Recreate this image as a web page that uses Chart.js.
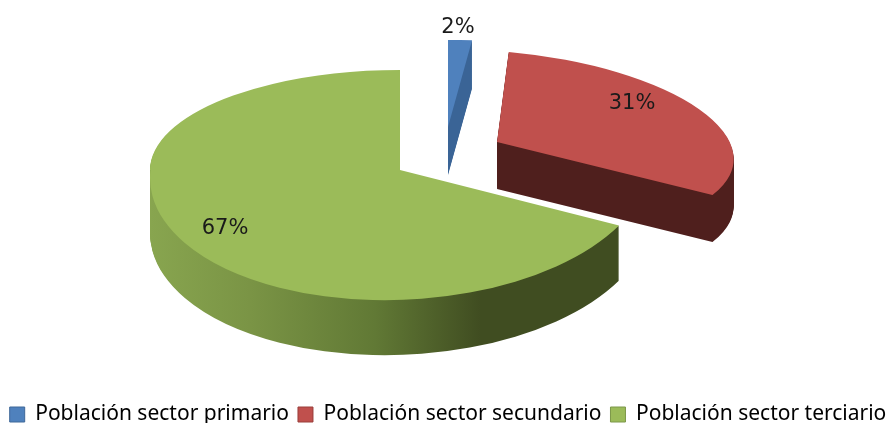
<!DOCTYPE html>
<html><head><meta charset="utf-8">
<style>html,body{margin:0;padding:0;background:#fff;overflow:hidden}#wrap{width:896px;height:423px}</style>
<script src="https://cdn.jsdelivr.net/npm/chart.js@4/dist/chart.umd.min.js"></script>
</head><body><div id="wrap"><canvas id="c" width="896" height="423"></canvas></div>
<script>
const categories = ['Población sector primario','Población sector secundario','Población sector terciario'];
const values = [2, 31, 67];
const topColors = ['#4F81BD','#C0504D','#9BBB59'];
const legendBorders = ['#3F6899','#9A3E3B','#7D984A'];
// style of the 3D look, per slice
const explodeX = [0, 49, -48];
const explodeY = [-71, -56, -28];
const depths = [48, 47, 55];
const scaleX = [1.92, 2.36, 2.50];
const shearY = [-0.03, 0.10, 0];
const shearYNear = [-0.03, 0.10, -0.08];
const shearX = [0, 0.18, 0];
const scaleFar = [0.87, 0.92, 1.00];
const scaleNear = [0.87, 0.92, 1.30];
const wallStops = [
  [[0,'#3A6496'],[1,'#3A6496']],
  [[0,'#4F1F1D'],[1,'#4F1F1D']],
  [[0,'#88A54F'],[0.2,'#7A9445'],[0.45,'#617935'],[0.66,'#404D21'],[1,'#404D21']]
];
const labelDX = [10, 135, -175];
const labelDY = [-99, -38, 59];

function paint(ctx, arc, i, drop, fill, W, H){
  const ax = arc.x + explodeX[i], ay = Math.round(arc.y + explodeY[i]) + drop, k = 100 / arc.outerRadius;
  const opts = Object.create(arc.options); opts.backgroundColor = fill; opts.borderWidth = 0;
  const saved = arc.options; arc.options = opts;
  [[0, ay, shearY[i], scaleFar[i]], [ay, H - ay, shearYNear[i], scaleNear[i]]].forEach(([cy, ch, b, sy]) => {
    ctx.save();
    ctx.beginPath(); ctx.rect(0, cy, W, ch); ctx.clip();
    ctx.transform(scaleX[i]*k, b*k, shearX[i]*k, sy*k, ax, ay);
    ctx.translate(-arc.x, -arc.y);
    arc.draw(ctx);
    ctx.restore();
  });
  arc.options = saved;
}
const pie3d = {
  id: 'pie3d',
  beforeDatasetsDraw(chart){
    const ctx = chart.ctx, arcs = chart.getDatasetMeta(0).data, W = chart.width, H = chart.height;
    [0,1,2].forEach(i => {
      const arc = arcs[i], R = arc.outerRadius;
      const g = ctx.createLinearGradient(arc.x - R, 0, arc.x + R, 0);
      wallStops[i].forEach(s => g.addColorStop(s[0], s[1]));
      for (let d = depths[i]; d >= 1; d--) paint(ctx, arc, i, d, g, W, H);
      paint(ctx, arc, i, 0, topColors[i], W, H);
    });
    return false;
  },
  afterDraw(chart){
    const ctx = chart.ctx, arcs = chart.getDatasetMeta(0).data;
    ctx.save();
    ctx.font = '21px "DejaVu Sans"'; ctx.fillStyle = '#1a1a1a';
    ctx.textAlign = 'center'; ctx.textBaseline = 'middle';
    const total = values.reduce((a,b)=>a+b,0);
    arcs.forEach((arc,i)=>{
      ctx.fillText(Math.round(values[i]/total*100)+'%', arc.x+explodeX[i]+labelDX[i], arc.y+explodeY[i]+labelDY[i]);
    });
    ctx.restore();
  }
};
new Chart(document.getElementById('c'), {
  type: 'pie',
  data: { labels: categories, datasets: [{ data: values, backgroundColor: topColors, borderColor: legendBorders, borderWidth: 0 }] },
  options: {
    responsive: false, animation: false, radius: 100,
    layout: { padding: { bottom: -12 } },
    plugins: {
      tooltip: { enabled: false },
      legend: { position: 'bottom',
        labels: { boxWidth: 15, boxHeight: 15, padding: 9, color: '#222', font: { family: '"Noto Sans"', size: 21 },
          generateLabels(chart){
            return categories.map((t,i)=>({ text:t, fillStyle: topColors[i], strokeStyle: legendBorders[i], lineWidth:1, index:i, hidden:false }));
          } } }
    }
  },
  plugins: [pie3d]
});
</script></body></html>
